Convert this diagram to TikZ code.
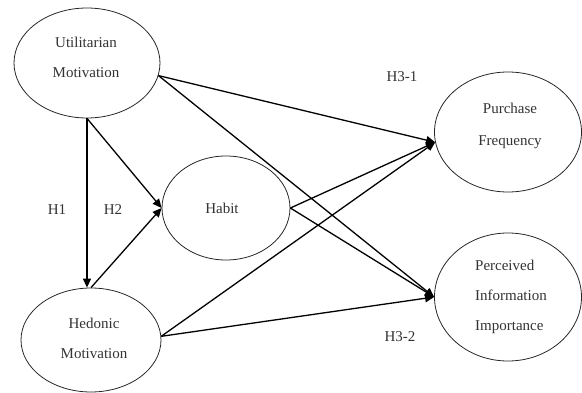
\documentclass[tikz,border=0pt]{standalone}
\usepackage{fontspec}
\setmainfont{Liberation Serif}
\usetikzlibrary{arrows.meta,shapes.geometric}
\begin{document}
\begin{tikzpicture}[x=1pt,y=1pt,
  ell/.style={draw=black!85, line width=0.8pt, ellipse, inner sep=0pt},
  txt/.style={text=black!80, font=\fontsize{15}{30}\selectfont, align=center, inner sep=0pt},
  hyp/.style={text=black!80, font=\fontsize{15}{18}\selectfont, inner sep=0pt},
  arr/.style={draw=black, line width=1.3pt, -{Triangle[length=9pt,width=8pt]}}
]
\useasboundingbox (0,0) rectangle (582,392);
\node[ell, minimum width=146, minimum height=110] (ut) at (87,329) {};
\node[ell, minimum width=128, minimum height=104] (hab) at (226,184) {};
\node[ell, minimum width=140, minimum height=104] (hed) at (91,52) {};
\node[ell, minimum width=147, minimum height=120] (pf) at (508,260) {};
\node[ell, minimum width=147, minimum height=128] (pii) at (508,95) {};

\node[txt] (utT) at (86,335) {Utilitarian\\Motivation};
\node[txt] (habT) at (222,184) {Habit};
\node[txt] (hedT) at (94,54) {Hedonic\\Motivation};
\node[txt, font=\fontsize{15}{32}\selectfont] (pfT) at (510,266) {Purchase\\Frequency};
\node[txt, align=left] (piiT) at (511,95) {Perceived\\Information\\Importance};

\node[hyp] (h1) at (57,182) {H1};
\node[hyp] (h2) at (113,182) {H2};
\node[hyp] (h31) at (402,315) {H3-1};
\node[hyp] (h32) at (400,55) {H3-2};

\draw[arr] (ut.south) -- (ut.south |- hed.north);
\draw[arr] (ut.south) -- (hab.west);
\draw[arr] (hed.north) -- (hab.west);
\draw[arr] (ut.-10) -- (pf.188);
\draw[arr] (ut.-10) -- (pii.west);
\draw[arr] (hab.east) -- (pf.188);
\draw[arr] (hab.east) -- (pii.west);
\draw[arr] (hed.3) -- (pf.188);
\draw[arr] (hed.3) -- (pii.west);
\end{tikzpicture}
\end{document}
